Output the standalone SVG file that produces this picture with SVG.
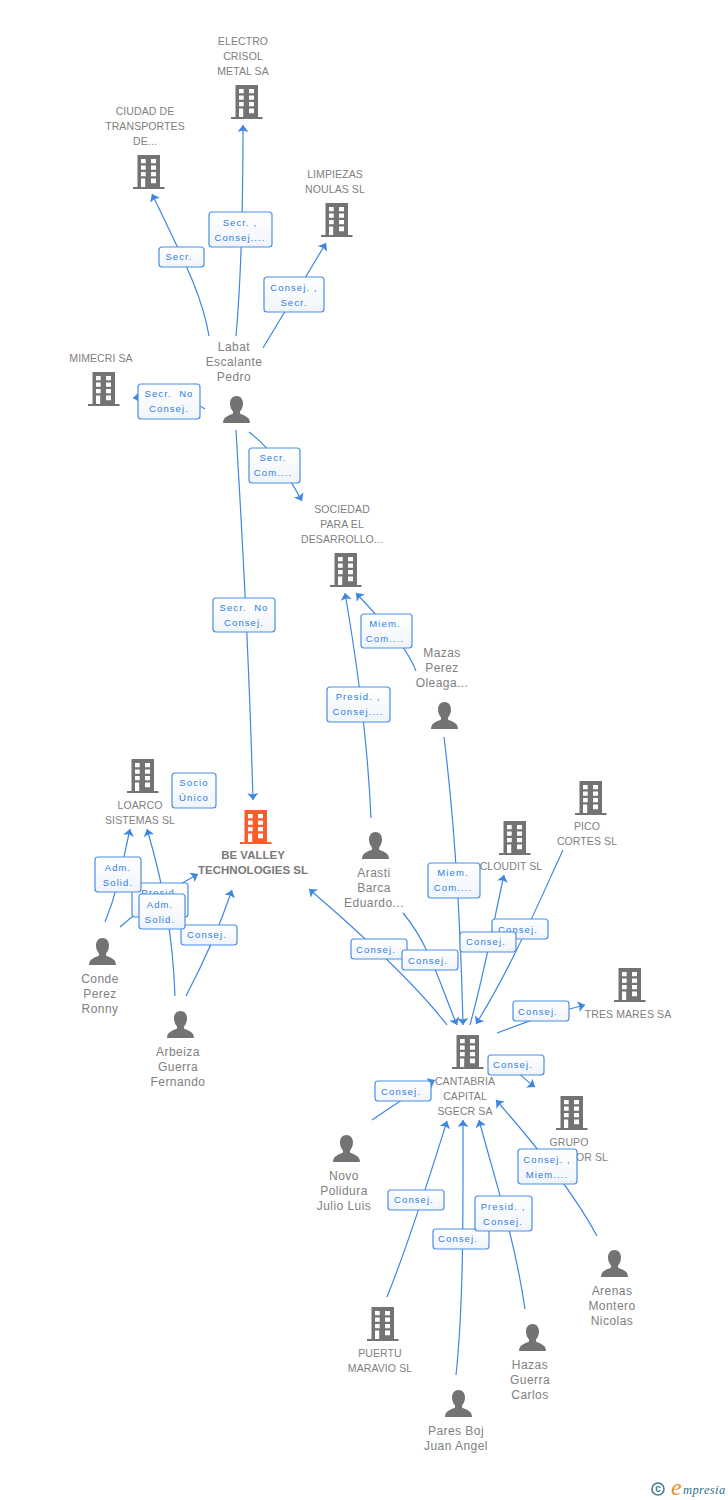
<svg xmlns="http://www.w3.org/2000/svg" width="728" height="1500" viewBox="0 0 728 1500">
<style>
text{font-family:"Liberation Sans",Arial,sans-serif}
.n{font-size:10.5px;fill:#808080;text-anchor:middle;letter-spacing:.1px}
.p{font-size:12px;fill:#808080;text-anchor:middle;letter-spacing:.45px}
.b{font-size:11.5px;fill:#7a7a7a;font-weight:bold;text-anchor:middle}
.l{font-size:9.5px;fill:#2f7de1;text-anchor:middle;letter-spacing:1.1px}
.r{fill:url(#g);stroke:#4a8fe6;stroke-width:1.2}
.c{fill:none;stroke:#3f86e2;stroke-width:1.2;marker-end:url(#a)}
</style>
<defs>
<linearGradient id="g" x1="0" y1="0" x2="0" y2="1"><stop offset="0" stop-color="#fff"/><stop offset="1" stop-color="#f0f4fa"/></linearGradient>
<marker id="a" markerUnits="userSpaceOnUse" markerWidth="12" markerHeight="12" refX="7" refY="5.500" orient="auto"><path d="M0 0L7 5.500L0 11L1.500 5.500Z" fill="#3f86e2"/></marker>
<symbol id="bld" viewBox="0 0 32 34" overflow="visible"><path fill-rule="evenodd" d="M4.500 0H27V32H31.500V34H0V32H4.500ZM8 4V8.300H12.700V4ZM18 4V8.300H23V4ZM8 10.500V14.800H12.700V10.500ZM18 10.500V14.800H23V10.500ZM8 17V21.300H12.700V17ZM18 17V21.300H23V17ZM8 23.500V32H12.200V23.500ZM18 23.500V28.300H23V23.500Z"/></symbol>
<symbol id="psn" viewBox="0 0 27 27" overflow="visible"><path d="M13.500 0C17.500 0 20 3 20 7.500C20 11 18.500 14 17 15.500V17.500C20 19.500 27 20 27 27H0C0 20 7 19.500 10 17.500V15.500C8.500 14 7 11 7 7.500C7 3 9.500 0 13.500 0Z"/></symbol>
</defs>
<g id="connectors">
<path class="c" d="M236 336C241 280 243 200 243 125"/>
<path class="c" d="M209 336C203 300 190 272 152 194"/>
<path class="c" d="M263 348L326 243"/>
<path class="c" d="M205 409C190 398 160 395 133 398"/>
<path class="c" d="M249 432C270 448 285 470 302 501"/>
<path class="c" d="M236 430C241 520 248 620 253 800"/>
<path class="c" d="M416 671C410 655 400 640 356 593"/>
<path class="c" d="M371 818C368 750 360 680 345 593"/>
<path class="c" d="M444 737C453 810 460 900 463 1025"/>
<path class="c" d="M447 1025C420 990 380 950 309 889"/>
<path class="c" d="M403 913C430 945 440 985 457 1025"/>
<path class="c" d="M470 1025C485 970 495 915 504 875"/>
<path class="c" d="M563 850C540 900 510 970 476 1024"/>
<path class="c" d="M497 1033C525 1022 555 1012 585 1005"/>
<path class="c" d="M505 1060C515 1070 525 1080 535 1087"/>
<path class="c" d="M372 1120C395 1105 415 1090 435 1080"/>
<path class="c" d="M387 1297C410 1240 430 1175 447 1121"/>
<path class="c" d="M456 1375C464 1300 463 1200 463 1120"/>
<path class="c" d="M525 1309C515 1240 495 1180 479 1120"/>
<path class="c" d="M597 1236C575 1195 540 1150 496 1100"/>
<path class="c" d="M105 922C118 890 122 865 130 829"/>
<path class="c" d="M120 927C145 905 170 890 198 874"/>
<path class="c" d="M175 996C173 940 165 890 147 829"/>
<path class="c" d="M186 996C205 960 220 925 232 890"/>
</g>
<g id="edge-labels">
<g><rect class="r" x="159" y="247" width="45" height="20" rx="3"/><text class="l" x="179" y="260">Secr.</text></g>
<g><rect class="r" x="209" y="212" width="63" height="35" rx="3"/><text class="l" x="240" y="226">Secr. ,</text><text class="l" x="240" y="241">Consej....</text></g>
<g><rect class="r" x="264" y="277" width="60" height="35" rx="3"/><text class="l" x="294" y="291">Consej. ,</text><text class="l" x="294" y="306">Secr.</text></g>
<g><rect class="r" x="138" y="384" width="62" height="35" rx="3"/><text class="l" x="169" y="397">Secr.&#160; No</text><text class="l" x="169" y="412">Consej.</text></g>
<g><rect class="r" x="249" y="448" width="51" height="35" rx="3"/><text class="l" x="273" y="461">Secr.</text><text class="l" x="273" y="476">Com....</text></g>
<g><rect class="r" x="213" y="598" width="62" height="34" rx="3"/><text class="l" x="244" y="611">Secr.&#160; No</text><text class="l" x="244" y="626">Consej.</text></g>
<g><rect class="r" x="361" y="614" width="51" height="34" rx="3"/><text class="l" x="385" y="627">Miem.</text><text class="l" x="385" y="642">Com....</text></g>
<g><rect class="r" x="327" y="687" width="63" height="35" rx="3"/><text class="l" x="358" y="700">Presid. ,</text><text class="l" x="358" y="715">Consej....</text></g>
<g><rect class="r" x="172" y="773" width="44" height="35" rx="3"/><text class="l" x="194" y="786">Socio</text><text class="l" x="194" y="801">Único</text></g>
<g><rect class="r" x="132" y="883" width="56" height="34" rx="3"/><text class="l" x="160" y="896">Presid.</text></g>
<g><rect class="r" x="95" y="857" width="46" height="35" rx="3"/><text class="l" x="118" y="871">Adm.</text><text class="l" x="118" y="886">Solid.</text></g>
<g><rect class="r" x="181" y="925" width="56" height="20" rx="3"/><text class="l" x="207" y="938">Consej.</text></g>
<g><rect class="r" x="139" y="894" width="46" height="35" rx="3"/><text class="l" x="160" y="908">Adm.</text><text class="l" x="160" y="923">Solid.</text></g>
<g><rect class="r" x="428" y="863" width="52" height="35" rx="3"/><text class="l" x="453" y="876">Miem.</text><text class="l" x="453" y="891">Com....</text></g>
<g><rect class="r" x="492" y="919" width="56" height="20" rx="3"/><text class="l" x="518" y="933">Consej.</text></g>
<g><rect class="r" x="460" y="932" width="56" height="20" rx="3"/><text class="l" x="486" y="945">Consej.</text></g>
<g><rect class="r" x="351" y="939" width="56" height="20" rx="3"/><text class="l" x="376" y="953">Consej.</text></g>
<g><rect class="r" x="402" y="950" width="56" height="20" rx="3"/><text class="l" x="428" y="964">Consej.</text></g>
<g><rect class="r" x="513" y="1001" width="56" height="20" rx="3"/><text class="l" x="538" y="1015">Consej.</text></g>
<g><rect class="r" x="488" y="1055" width="56" height="20" rx="3"/><text class="l" x="513" y="1068">Consej.</text></g>
<g><rect class="r" x="375" y="1081" width="56" height="20" rx="3"/><text class="l" x="401" y="1095">Consej.</text></g>
<g><rect class="r" x="388" y="1190" width="56" height="20" rx="3"/><text class="l" x="414" y="1203">Consej.</text></g>
<g><rect class="r" x="433" y="1229" width="56" height="20" rx="3"/><text class="l" x="458" y="1242">Consej.</text></g>
<g><rect class="r" x="475" y="1196" width="57" height="35" rx="3"/><text class="l" x="503" y="1210">Presid. ,</text><text class="l" x="503" y="1225">Consej.</text></g>
</g>
<g id="electro"><text class="n" x="243" y="45">ELECTRO</text><text class="n" x="243" y="60">CRISOL</text><text class="n" x="243" y="75">METAL SA</text><use href="#bld" x="231" y="85" width="32" height="34" fill="#737373"/></g>
<g id="ciudad"><text class="n" x="145" y="115">CIUDAD DE</text><text class="n" x="145" y="130">TRANSPORTES</text><text class="n" x="145" y="145">DE...</text><use href="#bld" x="133" y="155" width="32" height="34" fill="#737373"/></g>
<g id="limpiezas"><text class="n" x="335" y="178">LIMPIEZAS</text><text class="n" x="335" y="193">NOULAS SL</text><use href="#bld" x="321" y="203" width="32" height="34" fill="#737373"/></g>
<g id="mimecri"><text class="n" x="101" y="362">MIMECRI SA</text><use href="#bld" x="88" y="372" width="32" height="34" fill="#737373"/></g>
<g id="labat"><text class="p" x="234" y="351">Labat</text><text class="p" x="234" y="366">Escalante</text><text class="p" x="234" y="381">Pedro</text><use href="#psn" x="223" y="396" width="27" height="27" fill="#737373"/></g>
<g id="sociedad"><text class="n" x="342" y="513">SOCIEDAD</text><text class="n" x="342" y="528">PARA EL</text><text class="n" x="342" y="543">DESARROLLO...</text><use href="#bld" x="330" y="553" width="32" height="34" fill="#737373"/></g>
<g id="mazas"><text class="p" x="442" y="657">Mazas</text><text class="p" x="442" y="672">Perez</text><text class="p" x="442" y="687">Oleaga...</text><use href="#psn" x="431" y="702" width="27" height="27" fill="#737373"/></g>
<g id="loarco"><text class="n" x="140" y="809">LOARCO</text><text class="n" x="140" y="824">SISTEMAS SL</text><use href="#bld" x="127" y="759" width="32" height="34" fill="#737373"/></g>
<g id="bevalley"><use href="#bld" x="240" y="810" width="32" height="34" fill="#fa5c2e"/><text class="b" x="253" y="859">BE VALLEY</text><text class="b" x="253" y="874">TECHNOLOGIES SL</text></g>
<g id="arasti"><use href="#psn" x="362" y="832" width="27" height="27" fill="#737373"/><text class="p" x="374" y="877">Arasti</text><text class="p" x="374" y="892">Barca</text><text class="p" x="374" y="907">Eduardo...</text></g>
<g id="cloudit"><use href="#bld" x="499" y="821" width="32" height="34" fill="#737373"/><text class="n" x="511" y="870">CLOUDIT SL</text></g>
<g id="pico"><use href="#bld" x="575" y="781" width="32" height="34" fill="#737373"/><text class="n" x="587" y="830">PICO</text><text class="n" x="587" y="845">CORTES SL</text></g>
<g id="conde"><use href="#psn" x="89" y="938" width="27" height="27" fill="#737373"/><text class="p" x="100" y="983">Conde</text><text class="p" x="100" y="998">Perez</text><text class="p" x="100" y="1013">Ronny</text></g>
<g id="arbeiza"><use href="#psn" x="167" y="1011" width="27" height="27" fill="#737373"/><text class="p" x="178" y="1056">Arbeiza</text><text class="p" x="178" y="1071">Guerra</text><text class="p" x="178" y="1086">Fernando</text></g>
<g id="tresmares"><use href="#bld" x="614" y="968" width="32" height="34" fill="#737373"/><text class="n" x="628" y="1018">TRES MARES SA</text></g>
<g id="cantabria"><use href="#bld" x="452" y="1035" width="32" height="34" fill="#737373"/><text class="n" x="465" y="1085">CANTABRIA</text><text class="n" x="465" y="1100">CAPITAL</text><text class="n" x="465" y="1115">SGECR SA</text></g>
<g id="grupo"><use href="#bld" x="556" y="1096" width="32" height="34" fill="#737373"/><text class="n" x="569" y="1146">GRUPO</text><text class="n" x="592" y="1161">OR SL</text></g>
<g id="novo"><use href="#psn" x="333" y="1135" width="27" height="27" fill="#737373"/><text class="p" x="344" y="1180">Novo</text><text class="p" x="344" y="1195">Polidura</text><text class="p" x="344" y="1210">Julio Luis</text></g>
<g id="arenas"><use href="#psn" x="601" y="1250" width="27" height="27" fill="#737373"/><text class="p" x="612" y="1295">Arenas</text><text class="p" x="612" y="1310">Montero</text><text class="p" x="612" y="1325">Nicolas</text></g>
<g id="puertu"><use href="#bld" x="367" y="1307" width="32" height="34" fill="#737373"/><text class="n" x="380" y="1357">PUERTU</text><text class="n" x="380" y="1372">MARAVIO SL</text></g>
<g id="hazas"><use href="#psn" x="519" y="1324" width="27" height="27" fill="#737373"/><text class="p" x="530" y="1369">Hazas</text><text class="p" x="530" y="1384">Guerra</text><text class="p" x="530" y="1399">Carlos</text></g>
<g id="pares"><use href="#psn" x="445" y="1390" width="27" height="27" fill="#737373"/><text class="p" x="456" y="1435">Pares Boj</text><text class="p" x="456" y="1450">Juan Angel</text></g>
<g id="grupo-over"><rect class="r" x="518" y="1149" width="59" height="35" rx="3"/><text class="l" x="547" y="1163">Consej. ,</text><text class="l" x="547" y="1178">Miem....</text></g>
<g id="logo"><circle cx="658" cy="1489" r="6" fill="none" stroke="#3d7f94" stroke-width="1.600"/><text x="658" y="1492" font-size="10" font-weight="bold" fill="#3d7f94" text-anchor="middle">c</text><text x="671" y="1495" font-size="24" font-style="italic" fill="#f08a1d" style="font-family:'Liberation Serif',serif">e</text><text x="683" y="1494" font-size="12.500" font-style="italic" fill="#2f6f86" letter-spacing=".4" style="font-family:'Liberation Serif',serif">mpresia</text></g>
</svg>
